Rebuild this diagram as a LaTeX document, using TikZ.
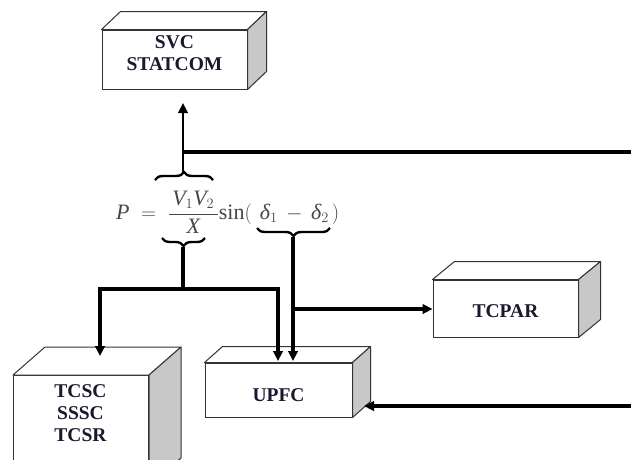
\documentclass[tikz,border=0pt]{standalone}
\usepackage{fontspec}
\setmainfont{Liberation Serif}
\usetikzlibrary{arrows.meta,decorations.pathreplacing,calc}

% visible faces of a cuboid whose front face is node #1, depth offset (#2,#3)
\newcommand\cuboidfaces[3]{%
  \filldraw[facefill] (#1.north west) -- ($(#1.north west)+(#2,#3)$)
     -- ($(#1.north east)+(#2,#3)$) -- (#1.north east) -- cycle;
  \filldraw[sidefill] (#1.north east) -- ($(#1.north east)+(#2,#3)$)
     -- ($(#1.south east)+(#2,#3)$) -- (#1.south east) -- cycle;
}

\definecolor{labelink}{RGB}{25,25,45}
\definecolor{sidegray}{RGB}{200,200,200}
\definecolor{eqgray}{RGB}{70,70,70}

\begin{document}
\begin{tikzpicture}[x=1pt,y=-1pt,
  face/.style={draw=black!80, line width=1pt, fill=white, inner sep=0pt},
  facefill/.style={draw=black!80, line width=1pt, fill=white, line join=round},
  sidefill/.style={draw=black!80, line width=1pt, fill=sidegray, line join=round},
  lbl/.style={font=\fontsize{19.5}{22}\selectfont\bfseries, text=labelink, align=center},
  wire/.style={line width=3.2pt, line join=miter},
  arrowwire/.style={wire, -{Triangle[length=10pt,width=9.5pt]}},
  bracedeco/.style={line width=2.4pt, decorate, decoration={brace, amplitude=8pt, aspect=0.5}},
]
\useasboundingbox (0,0) rectangle (631,459);
\clip (0,0) rectangle (631,459);

% ---- blocks ----
\node[face, minimum width=145pt, minimum height=59pt] (svc) at (174.5,59.5) {};
\cuboidfaces{svc}{19}{-18}
\node[lbl] (svctext) at (174.5,53.5) {SVC\\STATCOM};

\node[face, minimum width=145pt, minimum height=57pt] (tcpar) at (505.5,308.5) {};
\cuboidfaces{tcpar}{22}{-18}
\node[lbl] (tcpartext) at (505.5,311) {TCPAR};

\node[face, minimum width=147pt, minimum height=54pt] (upfc) at (278.5,390) {};
\cuboidfaces{upfc}{18}{-16}
\node[lbl] (upfctext) at (278.5,395) {UPFC};

\node[face, minimum width=135pt, minimum height=110pt, anchor=north west] (tcsc) at (13,375) {};
\cuboidfaces{tcsc}{32}{-28}
\node[lbl] (tcsctext) at (80.5,413.5) {TCSC\\SSSC\\TCSR};

% ---- power equation ----
\node[text=eqgray, font=\fontsize{22}{26}\selectfont, inner sep=0pt, anchor=west] (eq) at (116,212)
  {$\displaystyle \textit{P}\;=\;\frac{\,\textit{V}_{1}\textit{V}_{2}\,}{\textit{X}}\mathrm{sin}(\hspace{8pt}\textit{δ}_{1}\hspace{4pt}-\hspace{4pt}\textit{δ}_{2}\hspace{3pt})$};

% braces and their tips
\draw[bracedeco] (155,180) -- (213,180);
\coordinate (vtip) at (183,172);
\draw[bracedeco] (205,238) -- (162,238);
\coordinate (xtip) at (183,247);
\draw[bracedeco] (330,228) -- (257,228);
\coordinate (dtip) at (293,237);

% ---- connectors ----
\coordinate (svcin) at (183,103);
\coordinate (feedtop) at (631,152);
\coordinate (feedlow) at (631,406);
\coordinate (upfcside) at (364,406);
\coordinate (split) at (183,289);

\draw[arrowwire, line width=2.6pt] (vtip) -- (svcin);
\draw[wire, line width=4.2pt] (feedtop) -- (feedtop -| vtip);

\draw[wire] (xtip) -- (split);
\draw[arrowwire] (split) -| (100,356);
\draw[arrowwire] (split) -| (278,361);

\draw[arrowwire] (dtip) -- (293,361);
\draw[arrowwire] (293,309) -- (tcpar.west |- 0,309);

\draw[arrowwire] (feedlow) -- (upfcside);
\end{tikzpicture}
\end{document}
